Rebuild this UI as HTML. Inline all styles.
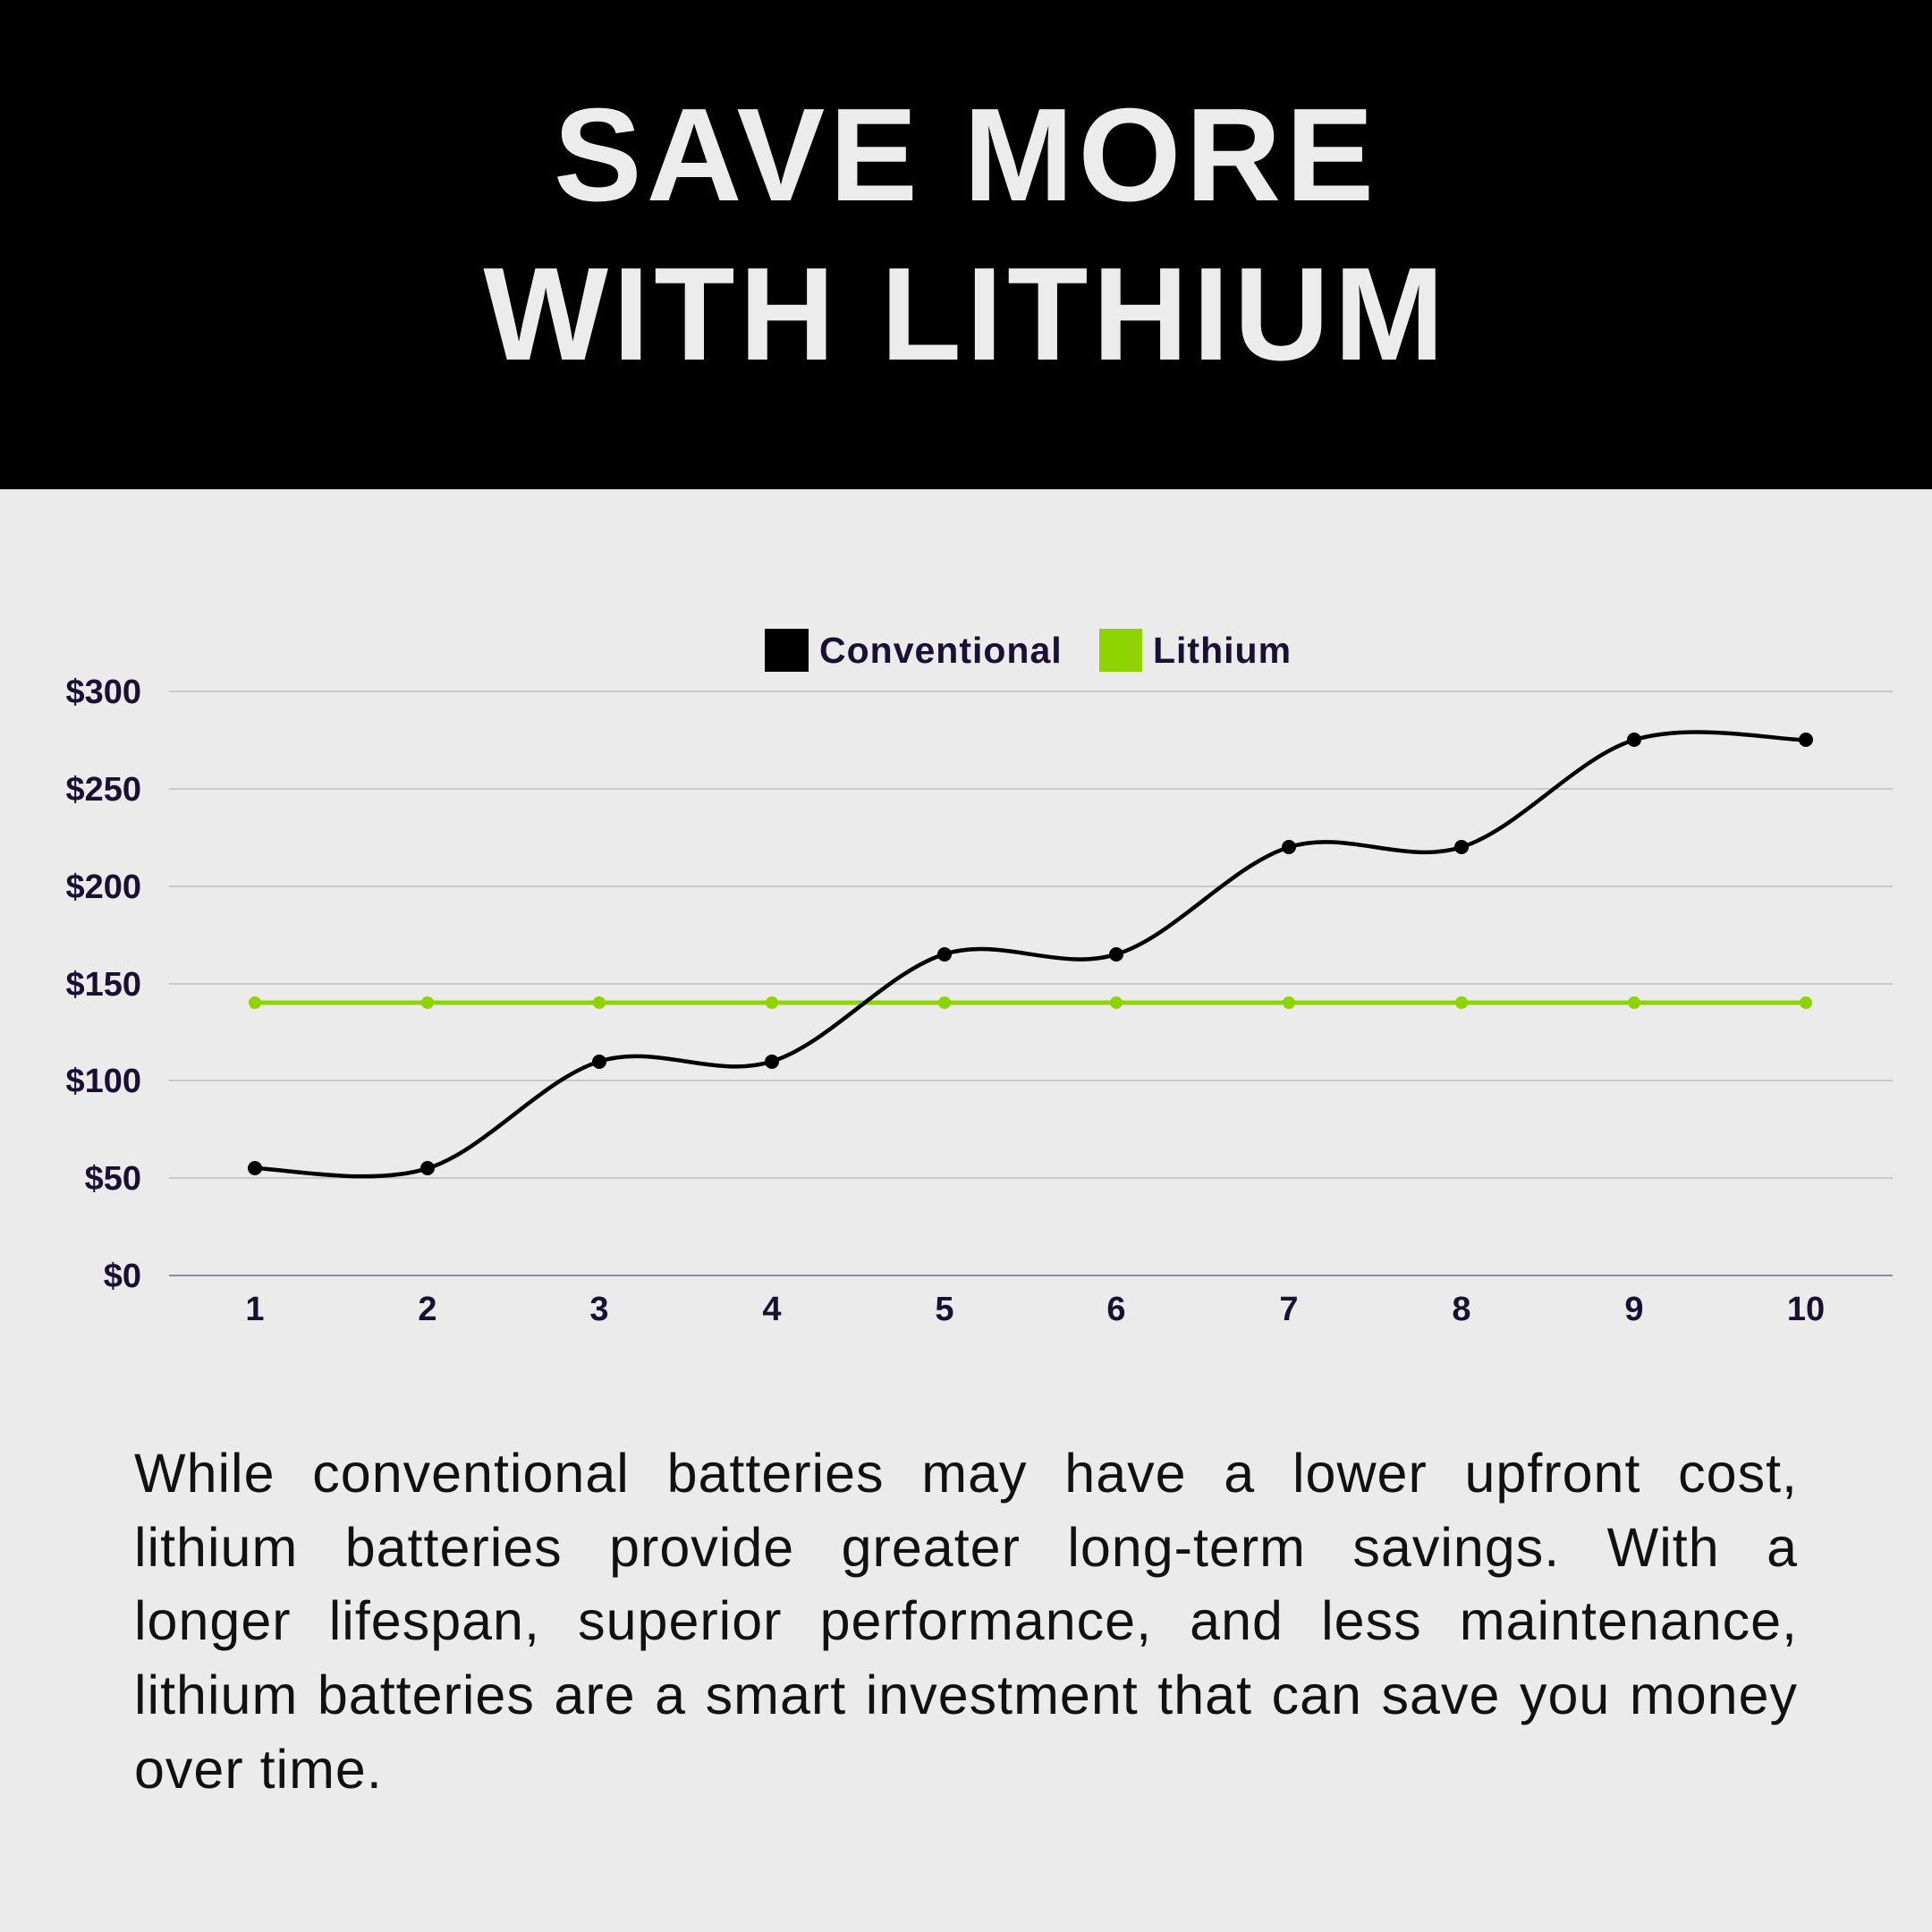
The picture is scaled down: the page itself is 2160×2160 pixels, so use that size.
<!DOCTYPE html>
<html><head><meta charset="utf-8"><style>
html,body{margin:0;padding:0}
body{width:2160px;height:2160px;background:#ebebeb;position:relative;overflow:hidden;font-family:"Liberation Sans",sans-serif}
.hdr{position:absolute;left:0;top:0;width:2160px;height:547px;background:#000}
.t{position:absolute;left:0;width:2160px;text-align:center;color:#ececec;font-weight:bold;font-size:148px;line-height:1;letter-spacing:5px}
.p{position:absolute;left:150px;top:1606px;width:1860px;font-size:61px;line-height:82.7px;color:#111;letter-spacing:1px}
.p div{text-align:justify;text-align-last:justify;height:82.7px;white-space:nowrap}
.p div.l{text-align-last:left}
</style></head><body>
<div class="hdr"></div>
<div class="t" style="top:100px">SAVE MORE</div>
<div class="t" style="top:278px">WITH LITHIUM</div>
<svg width="2160" height="2160" style="position:absolute;left:0;top:0" font-family="Liberation Sans, sans-serif">
<g stroke="#c9c9c9" stroke-width="2">
<line x1="189" x2="2116" y1="773" y2="773"/>
<line x1="189" x2="2116" y1="882" y2="882"/>
<line x1="189" x2="2116" y1="991" y2="991"/>
<line x1="189" x2="2116" y1="1100" y2="1100"/>
<line x1="189" x2="2116" y1="1208" y2="1208"/>
<line x1="189" x2="2116" y1="1317" y2="1317"/>
</g>
<line x1="189" x2="2116" y1="1426" y2="1426" stroke="#8a8aa0" stroke-width="2"/>
<g fill="#1a1033" font-size="38" font-weight="bold" text-anchor="end">
<text x="158" y="786">$300</text><text x="158" y="895">$250</text><text x="158" y="1004">$200</text>
<text x="158" y="1113">$150</text><text x="158" y="1221">$100</text><text x="158" y="1330">$50</text><text x="158" y="1439">$0</text>
</g>
<g fill="#1a1033" font-size="38" font-weight="bold" text-anchor="middle">
<text x="285" y="1476">1</text><text x="478" y="1476">2</text><text x="670" y="1476">3</text><text x="863" y="1476">4</text><text x="1056" y="1476">5</text>
<text x="1248" y="1476">6</text><text x="1441" y="1476">7</text><text x="1634" y="1476">8</text><text x="1827" y="1476">9</text><text x="2019" y="1476">10</text>
</g>
<rect x="855" y="703" width="49" height="48" fill="#000"/>
<text x="916" y="741" font-size="41" font-weight="bold" fill="#1a1033" letter-spacing="1">Conventional</text>
<rect x="1229" y="703" width="48" height="48" fill="#8fd400"/>
<text x="1289" y="741" font-size="41" font-weight="bold" fill="#1a1033" letter-spacing="1">Lithium</text>
<line x1="285" x2="2019" y1="1121" y2="1121" stroke="#8fd400" stroke-width="5"/>
<g fill="#8fd400">
<circle cx="285" cy="1121" r="7"/><circle cx="478" cy="1121" r="7"/><circle cx="670" cy="1121" r="7"/><circle cx="863" cy="1121" r="7"/><circle cx="1056" cy="1121" r="7"/>
<circle cx="1248" cy="1121" r="7"/><circle cx="1441" cy="1121" r="7"/><circle cx="1634" cy="1121" r="7"/><circle cx="1827" cy="1121" r="7"/><circle cx="2019" cy="1121" r="7"/>
</g>
<path fill="none" stroke="#000" stroke-width="4.5" d="M285 1306.3 C317 1306.3,413.8 1326.3,478 1306.3 C542.2 1286.3,606.2 1206.6,670.4 1186.6 C734.6 1166.6,798.9 1206.6,863.1 1186.6 C927.3 1166.6,991.6 1086.8,1055.8 1066.8 C1120 1046.8,1184.3 1086.8,1248.5 1066.8 C1312.7 1046.8,1377 967.1,1441.2 947.1 C1505.4 927.1,1569.7 967.1,1633.9 947.1 C1698.1 927.1,1762.4 847.4,1826.6 827.4 C1890.8 807.4,1987 827.4,2019.3 827.4"/>
<g fill="#000">
<circle cx="285" cy="1306" r="8"/><circle cx="478" cy="1306" r="8"/><circle cx="670" cy="1187" r="8"/><circle cx="863" cy="1187" r="8"/><circle cx="1056" cy="1067" r="8"/>
<circle cx="1248" cy="1067" r="8"/><circle cx="1441" cy="947" r="8"/><circle cx="1634" cy="947" r="8"/><circle cx="1827" cy="827" r="8"/><circle cx="2019" cy="827" r="8"/>
</g>
</svg>
<div class="p">
<div>While conventional batteries may have a lower upfront cost,</div>
<div>lithium batteries provide greater long-term savings. With a</div>
<div>longer lifespan, superior performance, and less maintenance,</div>
<div>lithium batteries are a smart investment that can save you money</div>
<div class="l">over time.</div>
</div>
</body></html>
